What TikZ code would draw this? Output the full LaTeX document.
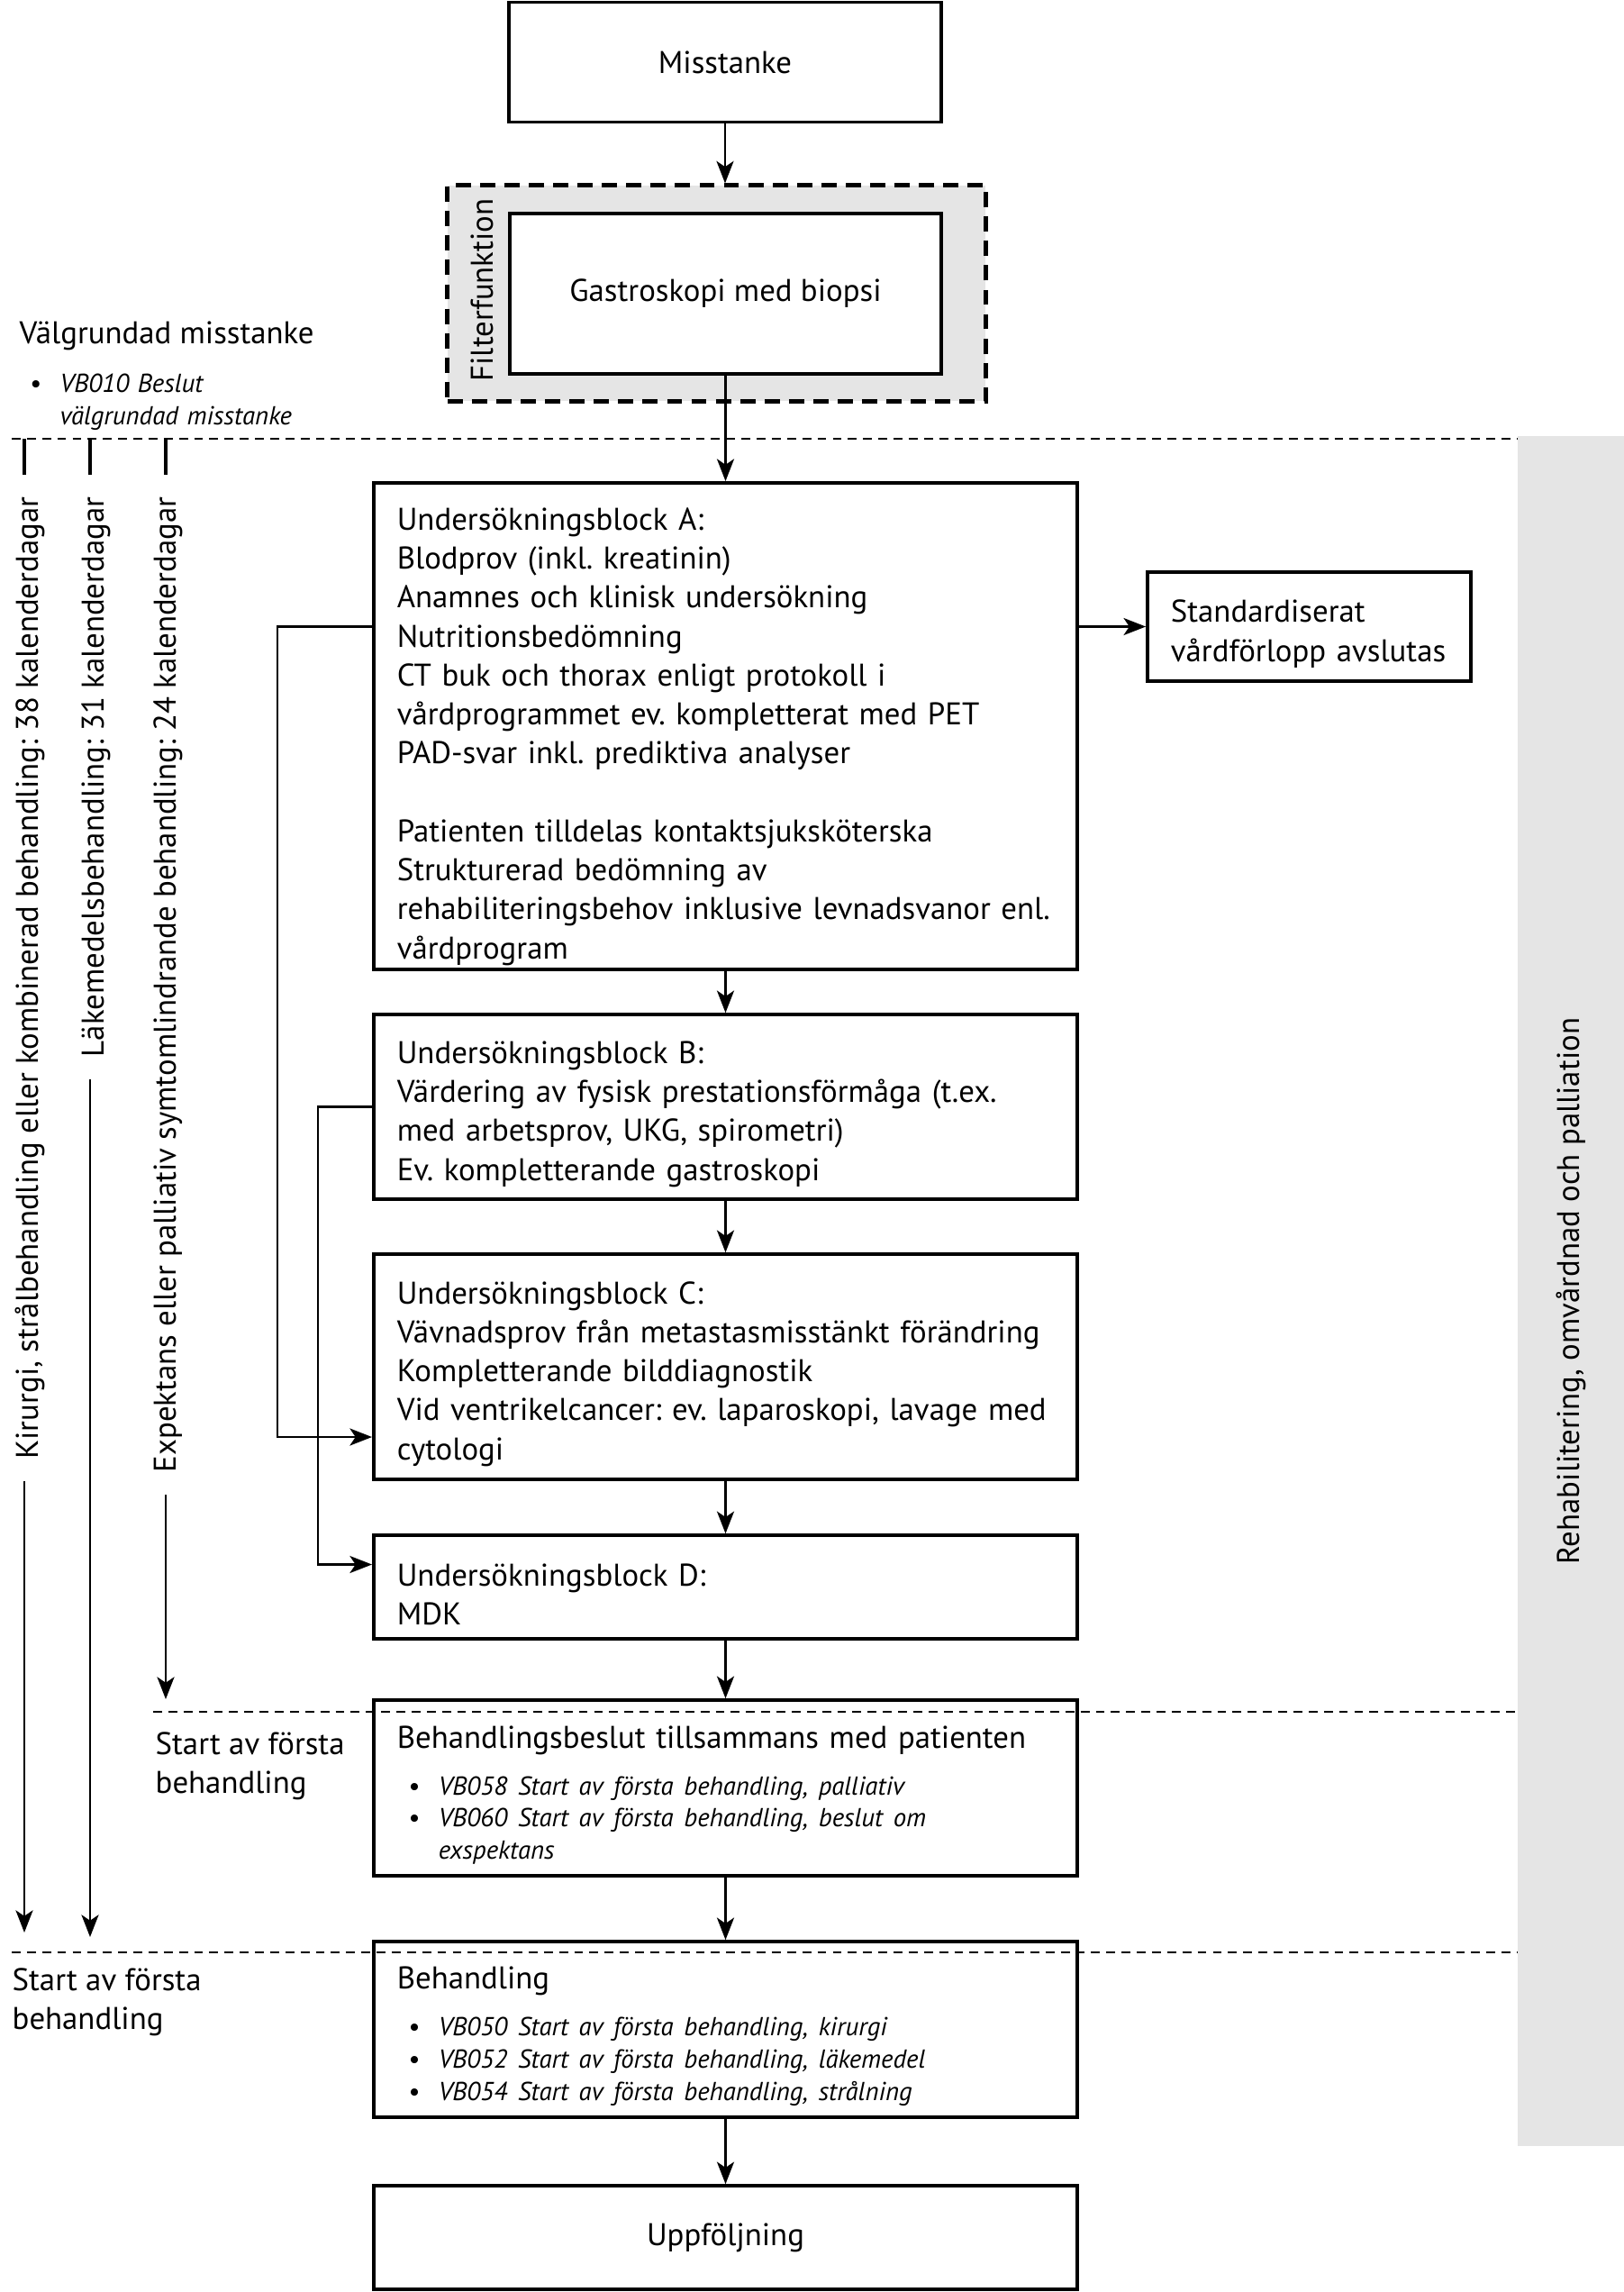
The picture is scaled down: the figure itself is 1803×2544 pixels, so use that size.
\documentclass[tikz,border=0pt]{standalone}
\usepackage{fontspec}
\setmainfont{PT Sans}
\usetikzlibrary{arrows.meta, calc, positioning}

\frenchspacing
\newcommand{\huvud}{\fontsize{9.9}{12.3}\selectfont\hyphenpenalty=10000}
\newcommand{\liten}{\fontsize{8.2}{10.2}\selectfont\itshape}
\newcommand{\vbpunkt}[1]{\par\noindent\hspace*{0.12cm}\makebox[0.34cm][l]{\textbullet}#1}
\newcommand{\vbforts}[1]{\par\noindent\hspace*{0.46cm}#1}
\newcommand{\blkslut}{\par\vspace*{-0.16cm}}

\begin{document}
\begin{tikzpicture}[x=0.01cm, y=-0.01cm,
    >={Stealth[length=7pt, width=5.4pt, inset=1.8pt]},
    blk/.style={draw, line width=1pt, fill=white, minimum width=7.81cm,
        text width=7.29cm, inner xsep=0.26cm, align=left, font=\huvud,
        execute at end node=\blkslut},
    ruta/.style={draw, line width=1pt, fill=white, align=center, font=\huvud},
    pil/.style={->, line width=0.8pt},
    streck/.style={line width=0.7pt, dash pattern=on 2.8pt off 2pt},
    vtext/.style={rotate=90, anchor=east, inner xsep=0.24cm, inner ysep=0pt, font=\huvud},
    etikett/.style={anchor=west, inner sep=0pt, align=left, font=\huvud},
    tick/.style={line width=1.1pt}]

    % Ram och bakgrund
    \useasboundingbox (0,0) rectangle (1803,2544);
    \fill[black!10] (1685,484) rectangle (1803,2382);
    \node[rotate=90, font=\huvud] (rehab) at (1744,1433) {Rehabilitering, omvårdnad och palliation};

    % Misstanke och filterfunktion
    \node[ruta, minimum width=4.80cm, minimum height=1.33cm] (misst) at (805,69) {Misstanke};
    \node[draw, line width=1.4pt, dash pattern=on 4.8pt off 2.9pt, fill=black!10,
        minimum width=5.97cm, minimum height=2.39cm] (filter) at (795.5,325.5) {};
    \node[ruta, minimum width=4.79cm, minimum height=1.78cm] (gastro) at (805.5,326) {Gastroskopi med biopsi};
    \node[rotate=90, font=\huvud, inner sep=0pt] (filtxt) at (535,322) {Filterfunktion};

    % Undersökningsblock
    \node[blk, minimum height=5.40cm] (blkA) at (805.5,806) {Undersökningsblock A:\\
        Blodprov (inkl. kreatinin)\\
        Anamnes och klinisk undersökning\\
        Nutritionsbedömning\\
        CT buk och thorax enligt protokoll i\\
        vårdprogrammet ev. kompletterat med PET\\
        PAD-svar inkl. prediktiva analyser\\[12.3pt]
        Patienten tilldelas kontaktsjuksköterska\\
        Strukturerad bedömning av\\
        rehabiliteringsbehov inklusive levnadsvanor enl.\\
        vårdprogram\par\vspace*{-0.07cm}};
    \node[blk, minimum width=3.59cm, text width=3.07cm, minimum height=1.21cm] (stand) at (1453.5,695.5)
        {Standardiserat\\vårdförlopp avslutas};
    \node[blk, minimum height=2.05cm] (blkB) at (805.5,1228.5) {Undersökningsblock B:\\
        Värdering av fysisk prestationsförmåga (t.ex.\\
        med arbetsprov, UKG, spirometri)\\
        Ev. kompletterande gastroskopi};
    \node[blk, minimum height=2.50cm] (blkC) at (805.5,1517) {Undersökningsblock C:\\
        Vävnadsprov från metastasmisstänkt förändring\\
        Kompletterande bilddiagnostik\\
        Vid ventrikelcancer: ev. laparoskopi, lavage med\\
        cytologi};
    \node[blk, minimum height=1.15cm] (blkD) at (805.5,1761.5) {Undersökningsblock D:\\
        MDK};

    % Beslut, behandling och uppföljning
    \node[blk, minimum height=1.95cm] (beslut) at (805.5,1984.5) {Behandlingsbeslut tillsammans med patienten\par
        \vspace{0.16cm}{\liten
        \vbpunkt{VB058 Start av första behandling, palliativ}
        \vbpunkt{VB060 Start av första behandling, beslut om}
        \vbforts{exspektans}\par}};
    \node[blk, minimum height=1.95cm] (beh) at (805.5,2252.5) {Behandling\par
        \vspace{0.16cm}{\liten
        \vbpunkt{VB050 Start av första behandling, kirurgi}
        \vbpunkt{VB052 Start av första behandling, läkemedel}
        \vbpunkt{VB054 Start av första behandling, strålning}\par}};
    \node[ruta, minimum width=7.81cm, minimum height=1.15cm] (uppf) at (805.5,2483.5) {Uppföljning};

    % Flöde
    \draw[pil] (misst.south) -- (misst.south |- filter.north);
    \draw[pil] (gastro) -- (blkA);
    \draw[pil] (blkA) -- (blkB);
    \draw[pil] (blkB) -- (blkC);
    \draw[pil] (blkC) -- (blkD);
    \draw[pil] (blkD) -- (beslut);
    \draw[pil] (beslut) -- (beh);
    \draw[pil] (beh) -- (uppf);
    \draw[pil] (blkA.east |- stand.west) -- (stand.west);
    \draw[pil] (blkA.west |- stand.west) -- ++(-105,0) |- ($(blkC.west)+(0,78)$);
    \draw[pil] (blkB.west) -- ++(-60,0) |- ($(blkD.west)+(0,-25)$);

    % Välgrundad misstanke
    \node[etikett] (valg) at (21,373) {Välgrundad misstanke};
    \node[etikett, text width=3.6cm, font=\liten] (vb010) at (20,439)
        {\vbpunkt{VB010 Beslut}\vbforts{välgrundad misstanke}};

    % Ledtider
    \coordinate (t1) at (27,487);
    \coordinate (t2) at (100,487);
    \coordinate (t3) at (184,487);
    \coordinate (e1) at (27,2145);
    \coordinate (e2) at (100,2150);
    \coordinate (e3) at (184,1886);
    \node[vtext] (lab1) at (33,527) {Kirurgi, strålbehandling eller kombinerad behandling: 38 kalenderdagar};
    \node[vtext] (lab2) at (107,527) {Läkemedelsbehandling: 31 kalenderdagar};
    \node[vtext] (lab3) at (187,527) {Expektans eller palliativ symtomlindrande behandling: 24 kalenderdagar};
    \draw[tick] (t1) -- (t1 |- lab1.east);
    \draw[tick] (t2) -- (t2 |- lab2.east);
    \draw[tick] (t3) -- (t3 |- lab3.east);
    \draw[pil] (e1 |- lab1.west) -- (e1);
    \draw[pil] (e2 |- lab2.west) -- (e2);
    \draw[pil] (e3 |- lab3.west) -- (e3);

    \node[etikett] (start1) at (172,1960) {Start av första\\behandling};
    \node[etikett] (start2) at (13,2222) {Start av första\\behandling};

    % Streckade gränser
    \draw[streck] (13,487) -- (1685,487);
    \draw[streck] (170,1900) -- (1685,1900);
    \draw[streck] (13,2167) -- (1685,2167);
\end{tikzpicture}
\end{document}
